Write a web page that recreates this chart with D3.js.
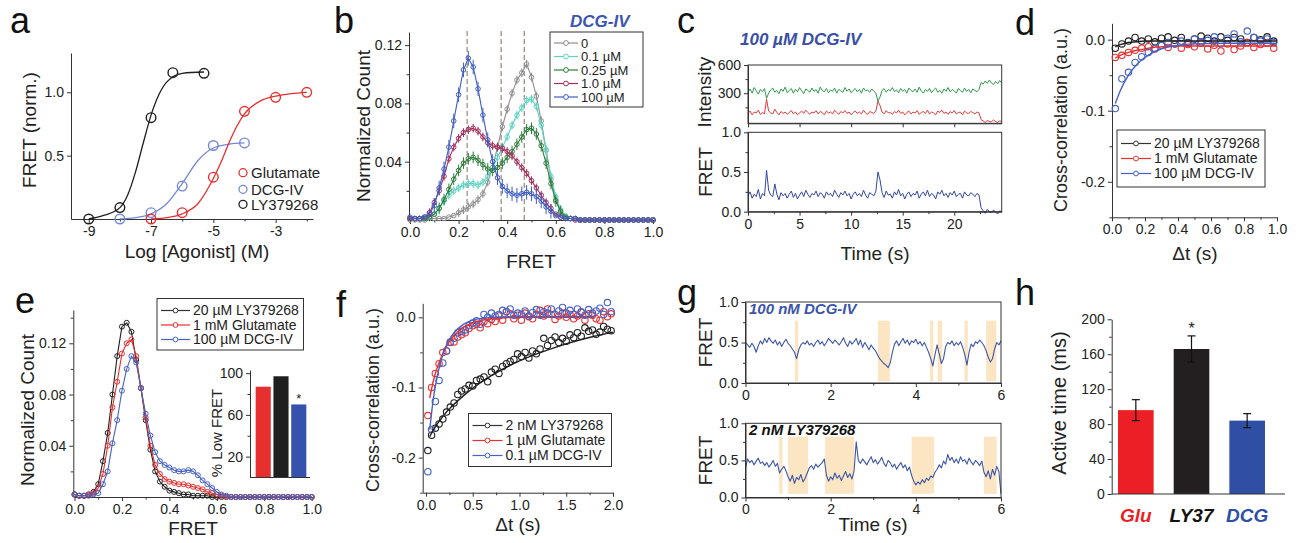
<!DOCTYPE html>
<html lang="en">
<head>
<meta charset="utf-8">
<title>mGluR2 smFRET agonist panels</title>
<script src="https://d3js.org/d3.v7.min.js"></script>
<style>
  body { margin: 0; background: #fff; }
</style>
</head>
<body>
<script>
// ---------- data ----------

// a: dose response
const aGluX = [-7, -6, -5, -4, -3, -2];
const aGluY = [0.0, 0.05, 0.33, 0.85, 0.96, 1.0];
const aDcgX = [-8, -7, -6, -5, -4];
const aDcgY = [0.0, 0.05, 0.26, 0.58, 0.60];
const aLyX = [-9, -8, -7, -6.3, -5.3];
const aLyY = [0.0, 0.09, 0.80, 1.155, 1.15];
// fitted curves, sampled from the figure
const aGluFitX = [-7, -6.5, -6, -5.5, -5, -4.75, -4.5, -4.25, -4, -3.5, -3, -2.5, -2];
const aGluFitY = [0.0, 0.01, 0.04, 0.12, 0.32, 0.45, 0.60, 0.73, 0.83, 0.93, 0.97, 0.99, 1.0];
const aDcgFitX = [-8, -7.5, -7, -6.5, -6, -5.5, -5, -4.5, -4];
const aDcgFitY = [0.0, 0.01, 0.04, 0.12, 0.28, 0.46, 0.56, 0.59, 0.60];
const aLyFitX = [-9, -8.5, -8, -7.75, -7.5, -7.25, -7, -6.75, -6.5, -6, -5.3];
const aLyFitY = [0.0, 0.03, 0.09, 0.19, 0.37, 0.60, 0.82, 0.98, 1.08, 1.15, 1.16];

// FRET histogram bins (b, e)
const fretBins = [0,0.02,0.04,0.06,0.08,0.1,0.12,0.14,0.16,0.18,0.2,0.22,0.24,0.26,0.28,0.3,0.32,0.34,0.36,0.38,
  0.4,0.42,0.44,0.46,0.48,0.5,0.52,0.54,0.56,0.58,0.6,0.62,0.64,0.66,0.68,0.7,0.72,0.74,0.76,0.78,
  0.8,0.82,0.84,0.86,0.88,0.9,0.92,0.94,0.96,0.98,1.0];

// b: DCG-IV titration
const bLabels = ["0", "0.1 µM", "0.25 µM", "1.0 µM", "100 µM"];
const b0 = [0,0,0,0,0.001,0.001,0.001,0.001,0.002,0.003, 0.005,0.007,0.009,0.011,0.014,0.018,0.026,0.036,0.05,0.064,
  0.076,0.087,0.096,0.101,0.107,0.098,0.085,0.068,0.048,0.028, 0.014,0.005,0.002,0.001,0.001,0,0,0,0,0, 0,0,0,0,0,0,0,0,0,0,0];
const b01 = [0.001,0.001,0.001,0.001,0.002,0.004,0.008,0.013,0.017,0.02, 0.022,0.024,0.025,0.025,0.024,0.026,0.03,0.036,0.043,0.05,
  0.057,0.065,0.072,0.077,0.082,0.083,0.078,0.065,0.048,0.03, 0.016,0.007,0.003,0.001,0.001,0,0,0,0,0, 0,0,0,0,0,0,0,0,0,0,0];
const b025 = [0.001,0.001,0.001,0.001,0.002,0.004,0.008,0.014,0.021,0.028, 0.034,0.039,0.042,0.043,0.041,0.038,0.035,0.034,0.036,0.039,
  0.043,0.047,0.052,0.057,0.062,0.063,0.059,0.051,0.039,0.025, 0.013,0.006,0.002,0.001,0.001,0,0,0,0,0, 0,0,0,0,0,0,0,0,0,0,0];
const b1 = [0.001,0.001,0.001,0.002,0.005,0.012,0.02,0.03,0.042,0.05, 0.056,0.06,0.062,0.063,0.061,0.057,0.053,0.051,0.05,0.049,
  0.047,0.044,0.04,0.036,0.032,0.027,0.022,0.017,0.012,0.008, 0.004,0.002,0.001,0.001,0,0,0,0,0,0, 0,0,0,0,0,0,0,0,0,0,0];
const b100 = [0.002,0.001,0.001,0.002,0.004,0.01,0.022,0.035,0.05,0.068, 0.086,0.103,0.111,0.105,0.09,0.072,0.055,0.04,0.029,0.023,
  0.02,0.018,0.017,0.018,0.019,0.018,0.016,0.013,0.009,0.006, 0.003,0.002,0.001,0.001,0.001,0,0,0,0,0, 0,0,0,0,0,0,0,0,0,0,0];
const bErr = [0.003, 0.003, 0.004, 0.003, 0.005];
const bPeaks = [0.235, 0.375, 0.47];

// c: single-molecule trace, 100 µM DCG-IV (0.2 s per frame)
const cDt = 0.2;
const cDonor = [310,345,300,360,325,290,340,315,350,245, 300,335,355,310,330,295,345,320,365,305,
  330,350,300,340,315,360,325,295,345,330, 310,355,320,340,300,365,330,315,350,305,
  335,320,355,300,340,325,310,360,320,345, 305,330,350,315,340,300,355,325,335,310,
  345,320,300,215,260,330,350,310,340,325, 360,315,335,305,350,320,340,300,355,330,
  315,345,310,365,325,300,340,320,350,305, 335,355,310,330,300,345,320,360,315,340,
  325,300,350,330,310,355,320,340,305,345, 330,315,340,415,395,430,405,440,410,390,425,400,435,410];
const cAcceptor = [85,110,70,100,90,120,75,95,80,235, 110,90,80,130,95,70,105,85,100,75,
  95,115,80,100,70,90,110,85,120,95, 75,100,90,115,80,105,95,70,110,90,
  100,80,120,95,75,105,90,115,85,100, 70,95,110,85,100,80,120,90,75,105,
  95,85,110,215,170,100,80,115,90,95, 75,105,90,120,85,100,70,95,110,80,
  100,90,115,75,95,105,85,120,80,100, 90,70,110,95,120,85,100,75,105,90,
  115,80,95,100,70,110,90,85,105,95, 80,100,90,20,5,-10,10,0,-5,15,0,-10,5,0];
const cFret = [0.20,0.25,0.17,0.22,0.19,0.28,0.16,0.23,0.20,0.52, 0.27,0.21,0.19,0.35,0.22,0.15,0.24,0.20,0.23,0.17,
  0.22,0.26,0.18,0.23,0.16,0.21,0.25,0.19,0.27,0.22, 0.18,0.23,0.21,0.26,0.19,0.24,0.22,0.17,0.25,0.21,
  0.23,0.19,0.27,0.22,0.18,0.24,0.21,0.26,0.20,0.23, 0.16,0.22,0.25,0.20,0.23,0.19,0.27,0.21,0.17,0.24,
  0.22,0.20,0.26,0.50,0.40,0.24,0.18,0.26,0.21,0.22, 0.17,0.25,0.21,0.28,0.20,0.23,0.16,0.22,0.25,0.19,
  0.23,0.21,0.26,0.17,0.22,0.25,0.20,0.27,0.19,0.23, 0.21,0.16,0.25,0.22,0.27,0.20,0.23,0.18,0.24,0.21,
  0.26,0.19,0.22,0.23,0.17,0.25,0.21,0.20,0.24,0.22, 0.19,0.23,0.21,0.05,0.01,-0.02,0.03,0.00,-0.01,0.02,0.00,-0.03,0.01,0.00];

// d: cross-correlation, saturating agonists
const dT = [0.02,0.06,0.10,0.14,0.18,0.22,0.26,0.30,0.34,0.38,0.42,0.46,0.50,0.54,0.58,0.62,0.66,0.70,0.74,0.78,0.82,0.86,0.90,0.94,0.98];
const dLy = [-0.012,-0.006,-0.002,0.003,-0.002,0.001,-0.003,0.002,0.004,-0.001,0.003,-0.004,0.001,0.005,0.002,-0.002,0.004,-0.001,0.003,0.001,-0.004,0.003,0.000,0.004,-0.002];
const dGlu = [-0.025,-0.022,-0.018,-0.015,-0.012,-0.010,-0.013,-0.008,-0.011,-0.006,-0.012,-0.007,-0.010,-0.005,-0.013,-0.008,-0.016,-0.006,-0.014,-0.009,-0.004,-0.011,-0.007,-0.005,-0.012];
const dDcg = [-0.097,-0.055,-0.046,-0.032,-0.024,-0.018,-0.012,-0.008,-0.004,-0.006,-0.002,-0.005,0.001,-0.003,-0.001,0.004,-0.006,0.002,0.008,-0.003,0.012,0.003,-0.002,0.001,-0.004];
const dFitT = [0.02,0.05,0.1,0.15,0.2,0.25,0.3,0.4,0.5,0.7,1.0];
const dLyFit = [-0.010,-0.007,-0.004,-0.003,-0.002,-0.002,-0.002,-0.002,-0.002,-0.002,-0.002];
const dGluFit = [-0.026,-0.022,-0.018,-0.015,-0.013,-0.011,-0.010,-0.009,-0.009,-0.009,-0.009];
const dDcgFit = [-0.090,-0.072,-0.050,-0.035,-0.025,-0.018,-0.013,-0.008,-0.006,-0.005,-0.005];
const dLabels = ["20 µM LY379268", "1 mM Glutamate", "100 µM DCG-IV"];

// e: FRET histograms, saturating agonists
const eLy = [0.002,0.001,0.001,0.002,0.004,0.01,0.028,0.05,0.08,0.11, 0.133,0.136,0.129,0.107,0.085,0.06,0.037,0.02,0.012,0.008,
  0.005,0.004,0.003,0.002,0.002,0.001,0.001,0.001,0.001,0, 0,0,0,0,0,0,0,0,0,0, 0,0,0,0,0,0,0,0,0,0,0];
const eGlu = [0.002,0.001,0.001,0.002,0.003,0.007,0.018,0.04,0.07,0.09, 0.112,0.12,0.123,0.11,0.085,0.062,0.04,0.025,0.018,0.014,
  0.012,0.011,0.01,0.01,0.009,0.008,0.007,0.006,0.004,0.003, 0.002,0.001,0,0,0,0,0,0,0,0, 0,0,0,0,0,0,0,0,0,0,0];
const eDcg = [0.002,0.001,0.001,0.001,0.002,0.003,0.01,0.02,0.042,0.06, 0.083,0.1,0.11,0.105,0.085,0.065,0.048,0.035,0.028,0.025,
  0.023,0.021,0.02,0.02,0.021,0.02,0.017,0.013,0.01,0.007, 0.004,0.002,0.001,0,0,0,0,0,0,0, 0,0,0,0,0,0,0,0,0,0,0];
const eLabels = ["20 µM LY379268", "1 mM Glutamate", "100 µM DCG-IV"];
const lowCats = ["Glu", "LY37", "DCG"];
const lowFret = [87, 97, 70];

// f: cross-correlation, sub-saturating agonists
const fT = [0.02,0.06,0.10,0.14,0.18,0.22,0.26,0.30,0.34,0.38,0.42,0.46,0.50,0.54,0.58,0.62,0.66,0.70,0.74,0.78,
  0.82,0.86,0.90,0.94,0.98,1.02,1.06,1.10,1.14,1.18,1.22,1.26,1.30,1.34,1.38,1.42,1.46,1.50,1.54,1.58,
  1.62,1.66,1.70,1.74,1.78,1.82,1.86,1.90,1.94,1.98];
const fLy = [-0.19,-0.168,-0.158,-0.152,-0.145,-0.135,-0.128,-0.122,-0.11,-0.105,-0.102,-0.097,-0.098,-0.09,-0.088,-0.085,-0.092,-0.078,-0.074,-0.08,
  -0.07,-0.066,-0.063,-0.06,-0.052,-0.056,-0.05,-0.058,-0.048,-0.052,-0.045,-0.03,-0.04,-0.033,-0.028,-0.036,-0.03,-0.034,-0.025,-0.029,
  -0.022,-0.027,-0.015,-0.02,-0.018,-0.024,-0.021,-0.013,-0.017,-0.019];
const fGlu = [-0.14,-0.10,-0.08,-0.066,-0.05,-0.048,-0.036,-0.035,-0.028,-0.025,-0.022,-0.016,-0.012,-0.01,-0.015,-0.006,-0.009,-0.003,-0.006,0.002,
  -0.004,0.008,0.005,-0.002,0.003,-0.004,0.006,0.001,-0.002,0.004,0.010,0.002,0.012,0.004,-0.003,0.002,0.006,0.000,0.004,-0.002,
  0.002,0.007,-0.004,0.005,0.003,-0.002,-0.004,0.008,0.001,0.005];
const fDcg = [-0.22,-0.16,-0.12,-0.09,-0.065,-0.048,-0.035,-0.03,-0.022,-0.02,-0.018,-0.012,-0.008,-0.005,-0.01,0.004,0.000,0.006,0.002,0.004,
  0.010,0.008,0.012,0.003,0.006,0.004,0.009,0.002,0.007,0.011,0.003,0.008,0.006,0.012,0.004,0.009,0.014,0.006,0.010,0.004,
  0.012,0.008,0.003,0.011,0.006,0.009,0.013,0.004,0.021,0.008];
const fFitT = [0.04,0.08,0.12,0.16,0.2,0.3,0.4,0.5,0.7,1.0,1.4,1.8,2.0];
const fLyFit = [-0.17,-0.16,-0.152,-0.145,-0.138,-0.124,-0.112,-0.101,-0.083,-0.062,-0.042,-0.027,-0.021];
const fGluFit = [-0.115,-0.09,-0.072,-0.058,-0.046,-0.026,-0.014,-0.008,-0.002,0,0,0,null];
const fDcgFit = [-0.16,-0.115,-0.085,-0.062,-0.045,-0.022,-0.01,-0.004,0,0.001,0.001,0.001,null];
const fLabels = ["2 nM LY379268", "1 µM Glutamate", "0.1 µM DCG-IV"];

// g: traces at low agonist (0.05 s per frame) and active dwells
const gDt = 0.05;
const gDcg = [0.50,0.47,0.44,0.49,0.45,0.38,0.46,0.52,0.48,0.55, 0.50,0.56,0.52,0.49,0.53,0.47,0.51,0.45,0.50,0.54,
  0.49,0.46,0.42,0.38,0.30,0.41,0.47,0.50,0.48,0.52, 0.47,0.49,0.45,0.50,0.53,0.48,0.51,0.46,0.50,0.55,
  0.52,0.49,0.53,0.50,0.47,0.51,0.56,0.49,0.45,0.52, 0.48,0.51,0.55,0.47,0.53,0.44,0.50,0.46,0.41,0.47,
  0.43,0.40,0.35,0.30,0.27,0.24,0.22,0.19,0.25,0.38, 0.48,0.52,0.46,0.51,0.55,0.49,0.53,0.47,0.52,0.50,
  0.54,0.48,0.51,0.46,0.50,0.44,0.38,0.30,0.21,0.35, 0.47,0.36,0.24,0.30,0.45,0.50,0.48,0.52,0.46,0.50,
  0.47,0.51,0.44,0.35,0.22,0.38,0.48,0.45,0.51,0.49, 0.53,0.50,0.46,0.40,0.32,0.26,0.30,0.42,0.50,0.47,0.52];
const gLy = [0.40,0.52,0.47,0.50,0.44,0.49,0.53,0.46,0.48,0.43, 0.47,0.41,0.45,0.50,0.42,0.46,0.33,0.38,0.42,0.36,
  0.28,0.22,0.30,0.19,0.27,0.24,0.31,0.21,0.26,0.33, 0.40,0.43,0.38,0.45,0.41,0.44,0.47,0.52,0.30,0.22,
  0.28,0.24,0.33,0.26,0.30,0.23,0.29,0.35,0.27,0.32, 0.25,0.36,0.75,0.50,0.46,0.52,0.48,0.44,0.50,0.55,
  0.47,0.51,0.45,0.49,0.54,0.46,0.42,0.50,0.47,0.41, 0.45,0.38,0.43,0.47,0.40,0.44,0.36,0.41,0.30,0.22,
  0.17,0.21,0.18,0.24,0.20,0.26,0.23,0.29,0.27,0.34, 0.38,0.44,0.40,0.49,0.45,0.58,0.50,0.54,0.47,0.52,
  0.46,0.55,0.49,0.51,0.45,0.53,0.48,0.44,0.50,0.47, 0.43,0.49,0.34,0.28,0.36,0.25,0.38,0.30,0.42,0.35,0.05];
const gDcgDwells = [[1.16,1.24],[3.11,3.39],[4.33,4.41],[4.51,4.62],[5.14,5.22],[5.65,5.89]];
const gLyDwells = [[0.79,0.87],[1.0,1.47],[1.87,2.55],[3.9,4.43],[5.6,5.9]];

// h: active dwell time
const hCats = ["Glu", "LY37", "DCG"];
const hMean = [96, 166, 84];
const hErr = [12, 15, 8];

// ---------- drawing ----------
const FONT = "'Liberation Sans', Arial, Helvetica, sans-serif";
const INK = "#222";
const RED = "#e6302f", BLUE = "#4662c4", BLACK = "#1f1f1f";

const svg = d3.select("body").append("svg")
  .attr("width", 1298).attr("height", 543)
  .attr("font-family", FONT);

function axis(orient, scale, pos, major, fmt, minor) {
  const mk = orient === "left" ? d3.axisLeft : d3.axisBottom;
  const g = svg.append("g")
    .attr("transform", orient === "left" ? `translate(${pos},0)` : `translate(0,${pos})`);
  g.call(mk(scale).tickValues(major).tickFormat(fmt).tickSize(4).tickSizeOuter(0));
  if (minor) {
    g.append("g").call(mk(scale).tickValues(minor).tickFormat("").tickSize(2.5).tickSizeOuter(0))
      .select(".domain").remove();
  }
  g.attr("font-size", 14).attr("font-family", FONT);
  g.selectAll("text").attr("fill", INK);
  g.selectAll("line,path").attr("stroke", "#333");
  return g;
}

function label(x, y, str, o = {}) {
  const t = svg.append("text").attr("x", x).attr("y", y).text(str)
    .attr("font-size", o.size || 19).attr("text-anchor", o.anchor || "middle")
    .attr("fill", o.fill || INK);
  if (o.rotate) t.attr("transform", `rotate(-90,${x},${y})`);
  if (o.bold) t.attr("font-weight", "bold");
  if (o.italic) t.attr("font-style", "italic");
  return t;
}

function line(xs, ys, x, y, color, w = 1.2, curve = d3.curveLinear) {
  svg.append("path").datum(d3.zip(xs, ys))
    .attr("fill", "none").attr("stroke", color).attr("stroke-width", w)
    .attr("stroke-linejoin", "round")
    .attr("d", d3.line().defined(d => d[1] != null).x(d => x(d[0])).y(d => y(d[1])).curve(curve));
}

function dots(xs, ys, x, y, color, r, w = 1.1) {
  svg.append("g").selectAll("circle").data(d3.zip(xs, ys)).join("circle")
    .attr("cx", d => x(d[0])).attr("cy", d => y(d[1])).attr("r", r)
    .attr("fill", "none").attr("stroke", color).attr("stroke-width", w);
}

function legend(x0, y0, x1, y1, rows, labels, colors, size, symW) {
  svg.append("rect").attr("x", x0).attr("y", y0).attr("width", x1 - x0).attr("height", y1 - y0)
    .attr("fill", "#fff").attr("stroke", "#333").attr("stroke-width", 1);
  labels.forEach((t, i) => {
    const yy = rows[i], xs = x0 + 4;
    svg.append("line").attr("x1", xs).attr("x2", xs + symW).attr("y1", yy).attr("y2", yy)
      .attr("stroke", colors[i]).attr("stroke-width", 1.2);
    svg.append("circle").attr("cx", xs + symW / 2).attr("cy", yy).attr("r", 2.4)
      .attr("fill", "#fff").attr("stroke", colors[i]).attr("stroke-width", 1);
    label(xs + symW + 3, yy, t, { size: size, anchor: "start" }).attr("dy", "0.35em");
  });
}

const f1 = d => d.toFixed(1);
const f2 = d => d.toFixed(2);

// ----- panel letters -----
[["a", 10, 33], ["b", 334, 33], ["c", 677, 33], ["d", 1015, 35],
 ["e", 15, 313], ["f", 336, 317], ["g", 677, 305], ["h", 1015, 305]]
  .forEach(p => label(p[1], p[2], p[0], { size: 36, anchor: "start", fill: "#111" }));

// ----- a -----
{
  const x = d3.scaleLinear().domain([-9.57, -1.8]).range([71, 313]);
  const y = d3.scaleLinear().domain([0, 1.31]).range([219, 53]);
  axis("bottom", x, 219, [-9, -7, -5, -3], d => String(d), [-8, -6, -4, -2]);
  axis("left", y, 71, [0.5, 1.0], f1);
  const cDcgA = "#7489d4";
  line(aLyFitX, aLyFitY, x, y, BLACK, 1.3, d3.curveMonotoneX);
  line(aDcgFitX, aDcgFitY, x, y, cDcgA, 1.3, d3.curveMonotoneX);
  line(aGluFitX, aGluFitY, x, y, RED, 1.3, d3.curveMonotoneX);
  dots(aLyX, aLyY, x, y, BLACK, 4.8, 1.4);
  dots(aDcgX, aDcgY, x, y, cDcgA, 4.8, 1.4);
  dots(aGluX, aGluY, x, y, RED, 4.8, 1.4);
  [["Glutamate", RED, 172.7], ["DCG-IV", cDcgA, 189.3], ["LY379268", BLACK, 204.3]].forEach(r => {
    svg.append("circle").attr("cx", 243).attr("cy", r[2]).attr("r", 4).attr("fill", "none")
      .attr("stroke", r[1]).attr("stroke-width", 1.3);
    label(251, r[2], r[0], { size: 15, anchor: "start" }).attr("dy", "0.35em");
  });
  label(36, 130, "FRET (norm.)", { rotate: true });
  label(197, 258, "Log [Agonist] (M)");
}

// ----- b -----
{
  const x = d3.scaleLinear().domain([0, 1]).range([410, 653]);
  const y = d3.scaleLinear().domain([0, 0.129]).range([220, 32]);
  axis("bottom", x, 220, [0, 0.2, 0.4, 0.6, 0.8, 1.0], f1, [0.1, 0.3, 0.5, 0.7, 0.9]);
  axis("left", y, 409, [0.04, 0.08, 0.12], f2, [0.02, 0.06, 0.10]);
  svg.append("g").selectAll("line").data(bPeaks).join("line")
    .attr("x1", d => x(d)).attr("x2", d => x(d)).attr("y1", y(0)).attr("y2", 30)
    .attr("stroke", "#7d6e60").attr("stroke-width", 1).attr("stroke-dasharray", "5,3");
  const cols = ["#8f8f8f", "#5ed3c2", "#2e7d3c", "#a3305c", "#3f5dc6"];
  [b0, b01, b025, b1, b100].forEach((s, k) => {
    const pts = d3.zip(fretBins, s);
    svg.append("g").selectAll("line").data(pts.filter(d => d[1] > 0.004)).join("line")
      .attr("x1", d => x(d[0])).attr("x2", d => x(d[0]))
      .attr("y1", d => y(d[1] - bErr[k])).attr("y2", d => y(d[1] + bErr[k]))
      .attr("stroke", cols[k]).attr("stroke-width", 1);
    line(fretBins, s, x, y, cols[k], 1.1);
    dots(fretBins, s, x, y, cols[k], 2.3, 1);
  });
  legend(550, 32, 643, 107, [43, 56.5, 70, 83.5, 97], bLabels, cols, 13, 24);
  label(570, 27, "DCG-IV", { size: 17, anchor: "start", bold: true, italic: true, fill: "#3d57b0" });
  label(370, 126, "Normalized Count", { rotate: true });
  label(531, 268, "FRET");
}

// ----- c -----
{
  const tt = cFret.map((_, i) => i * cDt);
  const x = d3.scaleLinear().domain([0, 24.6]).range([748, 1001.7]);
  const yI = d3.scaleLinear().domain([-20, 600]).range([123.3, 65]);
  const yF = d3.scaleLinear().domain([0, 1]).range([211.7, 132.3]);
  line(tt, cDonor, x, yI, "#2f9a4d", 1);
  line(tt, cAcceptor, x, yI, "#e03a3c", 1);
  line(tt, cFret, x, yF, "#3246a2", 1);
  [[65, 123.3], [132.3, 211.7]].forEach(b => svg.append("rect")
    .attr("x", 748).attr("y", b[0]).attr("width", 1001.7 - 748).attr("height", b[1] - b[0])
    .attr("fill", "none").attr("stroke", "#333").attr("stroke-width", 1));
  axis("left", yI, 748, [300, 600], d => String(d), [150, 450]);
  axis("left", yF, 748, [0, 0.5, 1.0], f1, [0.25, 0.75]);
  axis("bottom", x, 211.7, [0, 5, 10, 15, 20], d => String(d), [2.5, 7.5, 12.5, 17.5, 22.5]);
  axis("bottom", x, 123.3, [0, 5, 10, 15, 20], "").selectAll("text").remove();
  label(740, 45, "100 µM DCG-IV", { size: 17, anchor: "start", bold: true, italic: true, fill: "#3a4fa6" });
  label(711, 92, "Intensity", { rotate: true });
  label(712, 172, "FRET", { rotate: true });
  label(875, 260, "Time (s)");
}

// ----- d -----
{
  const x = d3.scaleLinear().domain([0, 1]).range([1112, 1277]);
  const y = d3.scaleLinear().domain([-0.25, 0.023]).range([217.3, 23.3]);
  axis("bottom", x, 217.3, [0, 0.2, 0.4, 0.6, 0.8, 1.0], f1, [0.1, 0.3, 0.5, 0.7, 0.9]);
  axis("left", y, 1112, [0, -0.1, -0.2], f1, [-0.05, -0.15, -0.25]);
  dots(dT, dLy, x, y, BLACK, 3.2);
  dots(dT, dGlu, x, y, RED, 3.2);
  dots(dT, dDcg, x, y, BLUE, 3.2);
  line(dFitT, dLyFit, x, y, BLACK, 1.4, d3.curveMonotoneX);
  line(dFitT, dGluFit, x, y, RED, 1.4, d3.curveMonotoneX);
  line(dFitT, dDcgFit, x, y, BLUE, 1.4, d3.curveMonotoneX);
  legend(1117, 130, 1265, 187, [143.5, 158.5, 173.5], dLabels, ["#333", RED, BLUE], 14, 30);
  label(1067, 120, "Cross-correlation (a.u.)", { rotate: true, size: 18 });
  label(1195, 260, "Δt (s)");
}

// ----- e -----
{
  const x = d3.scaleLinear().domain([0, 1]).range([74.5, 311.7]);
  const y = d3.scaleLinear().domain([0, 0.146]).range([497, 310]);
  axis("bottom", x, 497, [0, 0.2, 0.4, 0.6, 0.8, 1.0], f1, [0.1, 0.3, 0.5, 0.7, 0.9]);
  axis("left", y, 73.3, [0.04, 0.08, 0.12], f2, [0.02, 0.06, 0.10, 0.14]);
  [[eLy, BLACK], [eGlu, RED], [eDcg, BLUE]].forEach(s => {
    line(fretBins, s[0], x, y, s[1], 1.1);
    dots(fretBins, s[0], x, y, s[1], 2.5, 1);
  });
  legend(157, 298.5, 303.5, 350, [310.5, 325, 339.5], eLabels, ["#333", RED, BLUE], 14, 29);
  // inset: % low FRET
  const xi = d3.scaleBand().domain(lowCats).range([253, 309]).paddingInner(0.15).paddingOuter(0.15);
  const yi = d3.scaleLinear().domain([0, 103]).range([477.5, 370]);
  svg.append("g").selectAll("rect").data(d3.zip(lowCats, lowFret)).join("rect")
    .attr("x", d => xi(d[0])).attr("width", xi.bandwidth())
    .attr("y", d => yi(d[1])).attr("height", d => yi(0) - yi(d[1]))
    .attr("fill", (d, i) => [RED, BLACK, "#3553ad"][i]);
  axis("left", yi, 250, [20, 60, 100], d => String(d), [40, 80]);
  svg.append("line").attr("x1", 250).attr("x2", 310).attr("y1", yi(0)).attr("y2", yi(0)).attr("stroke", "#333");
  label(xi("DCG") + xi.bandwidth() / 2, yi(lowFret[2]) - 1, "*", { size: 13 });
  label(222, 433, "% Low FRET", { rotate: true, size: 15 });
  label(34, 410, "Normalized Count", { rotate: true });
  label(193, 535, "FRET");
}

// ----- f -----
{
  const x = d3.scaleLinear().domain([-0.035, 2.0]).range([422.7, 613]);
  const y = d3.scaleLinear().domain([-0.25, 0.02]).range([492.7, 303.3]);
  axis("bottom", x, 492.7, [0, 0.5, 1.0, 1.5, 2.0], f1, [0.25, 0.75, 1.25, 1.75]);
  axis("left", y, 422.7, [0, -0.1, -0.2], f1, [-0.05, -0.15, -0.25]);
  dots(fT, fLy, x, y, BLACK, 3.2);
  dots(fT, fGlu, x, y, RED, 3.2);
  dots(fT, fDcg, x, y, BLUE, 3.2);
  line(fFitT, fLyFit, x, y, BLACK, 1.4, d3.curveMonotoneX);
  line(fFitT, fGluFit, x, y, RED, 1.4, d3.curveMonotoneX);
  line(fFitT, fDcgFit, x, y, BLUE, 1.4, d3.curveMonotoneX);
  legend(468.5, 413.5, 611.5, 466.5, [425.5, 440.5, 455.5], fLabels, ["#333", RED, BLUE], 14, 30);
  label(379, 400, "Cross-correlation (a.u.)", { rotate: true, size: 18 });
  label(518, 531, "Δt (s)");
}

// ----- g -----
{
  const x = d3.scaleLinear().domain([0, 6]).range([745.5, 1001]);
  const rows = [
    { data: gDcg, dwell: gDcgDwells, top: 302, bot: 383, name: "100 nM DCG-IV", col: "#3b55ad", shade: [0.02, 0.77] },
    { data: gLy, dwell: gLyDwells, top: 423.3, bot: 497.5, name: "2 nM LY379268", col: "#111", shade: [0.05, 0.82] }
  ];
  rows.forEach(r => {
    const y = d3.scaleLinear().domain([0, 1]).range([r.bot, r.top]);
    svg.append("g").selectAll("rect").data(r.dwell).join("rect")
      .attr("x", d => x(d[0])).attr("width", d => x(d[1]) - x(d[0]))
      .attr("y", y(r.shade[1])).attr("height", y(r.shade[0]) - y(r.shade[1]))
      .attr("fill", "#fbe2bd").attr("opacity", 0.9);
    line(r.data.map((_, i) => i * gDt), r.data, x, y, "#3d57a6", 1.1);
    svg.append("rect").attr("x", 745.5).attr("y", r.top).attr("width", 1001 - 745.5).attr("height", r.bot - r.top)
      .attr("fill", "none").attr("stroke", "#333");
    axis("left", y, 745.5, [0, 0.5, 1.0], f1, [0.25, 0.75]);
    axis("bottom", x, r.bot, [0, 2, 4, 6], d => String(d), [1, 3, 5]);
    label(749, r.top + 12, r.name, { size: 15, anchor: "start", bold: true, italic: true, fill: r.col });
    label(712, (r.top + r.bot) / 2, "FRET", { rotate: true });
  });
  label(873, 531, "Time (s)");
}

// ----- h -----
{
  const x = d3.scaleBand().domain(hCats).range([1108, 1275]).paddingInner(0.36).paddingOuter(0.18);
  const y = d3.scaleLinear().domain([0, 200]).range([494, 319.3]);
  const cols = ["#ec1f26", "#231f20", "#2f4fa5"];
  svg.append("g").selectAll("rect").data(d3.zip(hCats, hMean)).join("rect")
    .attr("x", d => x(d[0])).attr("width", x.bandwidth())
    .attr("y", d => y(d[1])).attr("height", d => y(0) - y(d[1]))
    .attr("fill", (d, i) => cols[i]);
  const eb = svg.append("g").attr("stroke", "#111").attr("stroke-width", 1.2);
  hCats.forEach((c, i) => {
    const cx = x(c) + x.bandwidth() / 2;
    eb.append("line").attr("x1", cx).attr("x2", cx).attr("y1", y(hMean[i] - hErr[i])).attr("y2", y(hMean[i] + hErr[i]));
    [hMean[i] - hErr[i], hMean[i] + hErr[i]].forEach(v =>
      eb.append("line").attr("x1", cx - 4).attr("x2", cx + 4).attr("y1", y(v)).attr("y2", y(v)));
    label(cx, 522, c, { size: 19, bold: true, italic: true, fill: cols[i] === "#231f20" ? "#111" : cols[i] });
  });
  label(x("LY37") + x.bandwidth() / 2, y(hMean[1] + hErr[1]) - 2, "*", { size: 16 });
  axis("left", y, 1111.7, [0, 40, 80, 120, 160, 200], d => String(d), [20, 60, 100, 140, 180]);
  svg.append("line").attr("x1", 1111.7).attr("x2", 1285).attr("y1", y(0)).attr("y2", y(0)).attr("stroke", "#333");
  label(1066, 403, "Active time (ms)", { rotate: true, size: 20 });
}
</script>
</body>
</html>
